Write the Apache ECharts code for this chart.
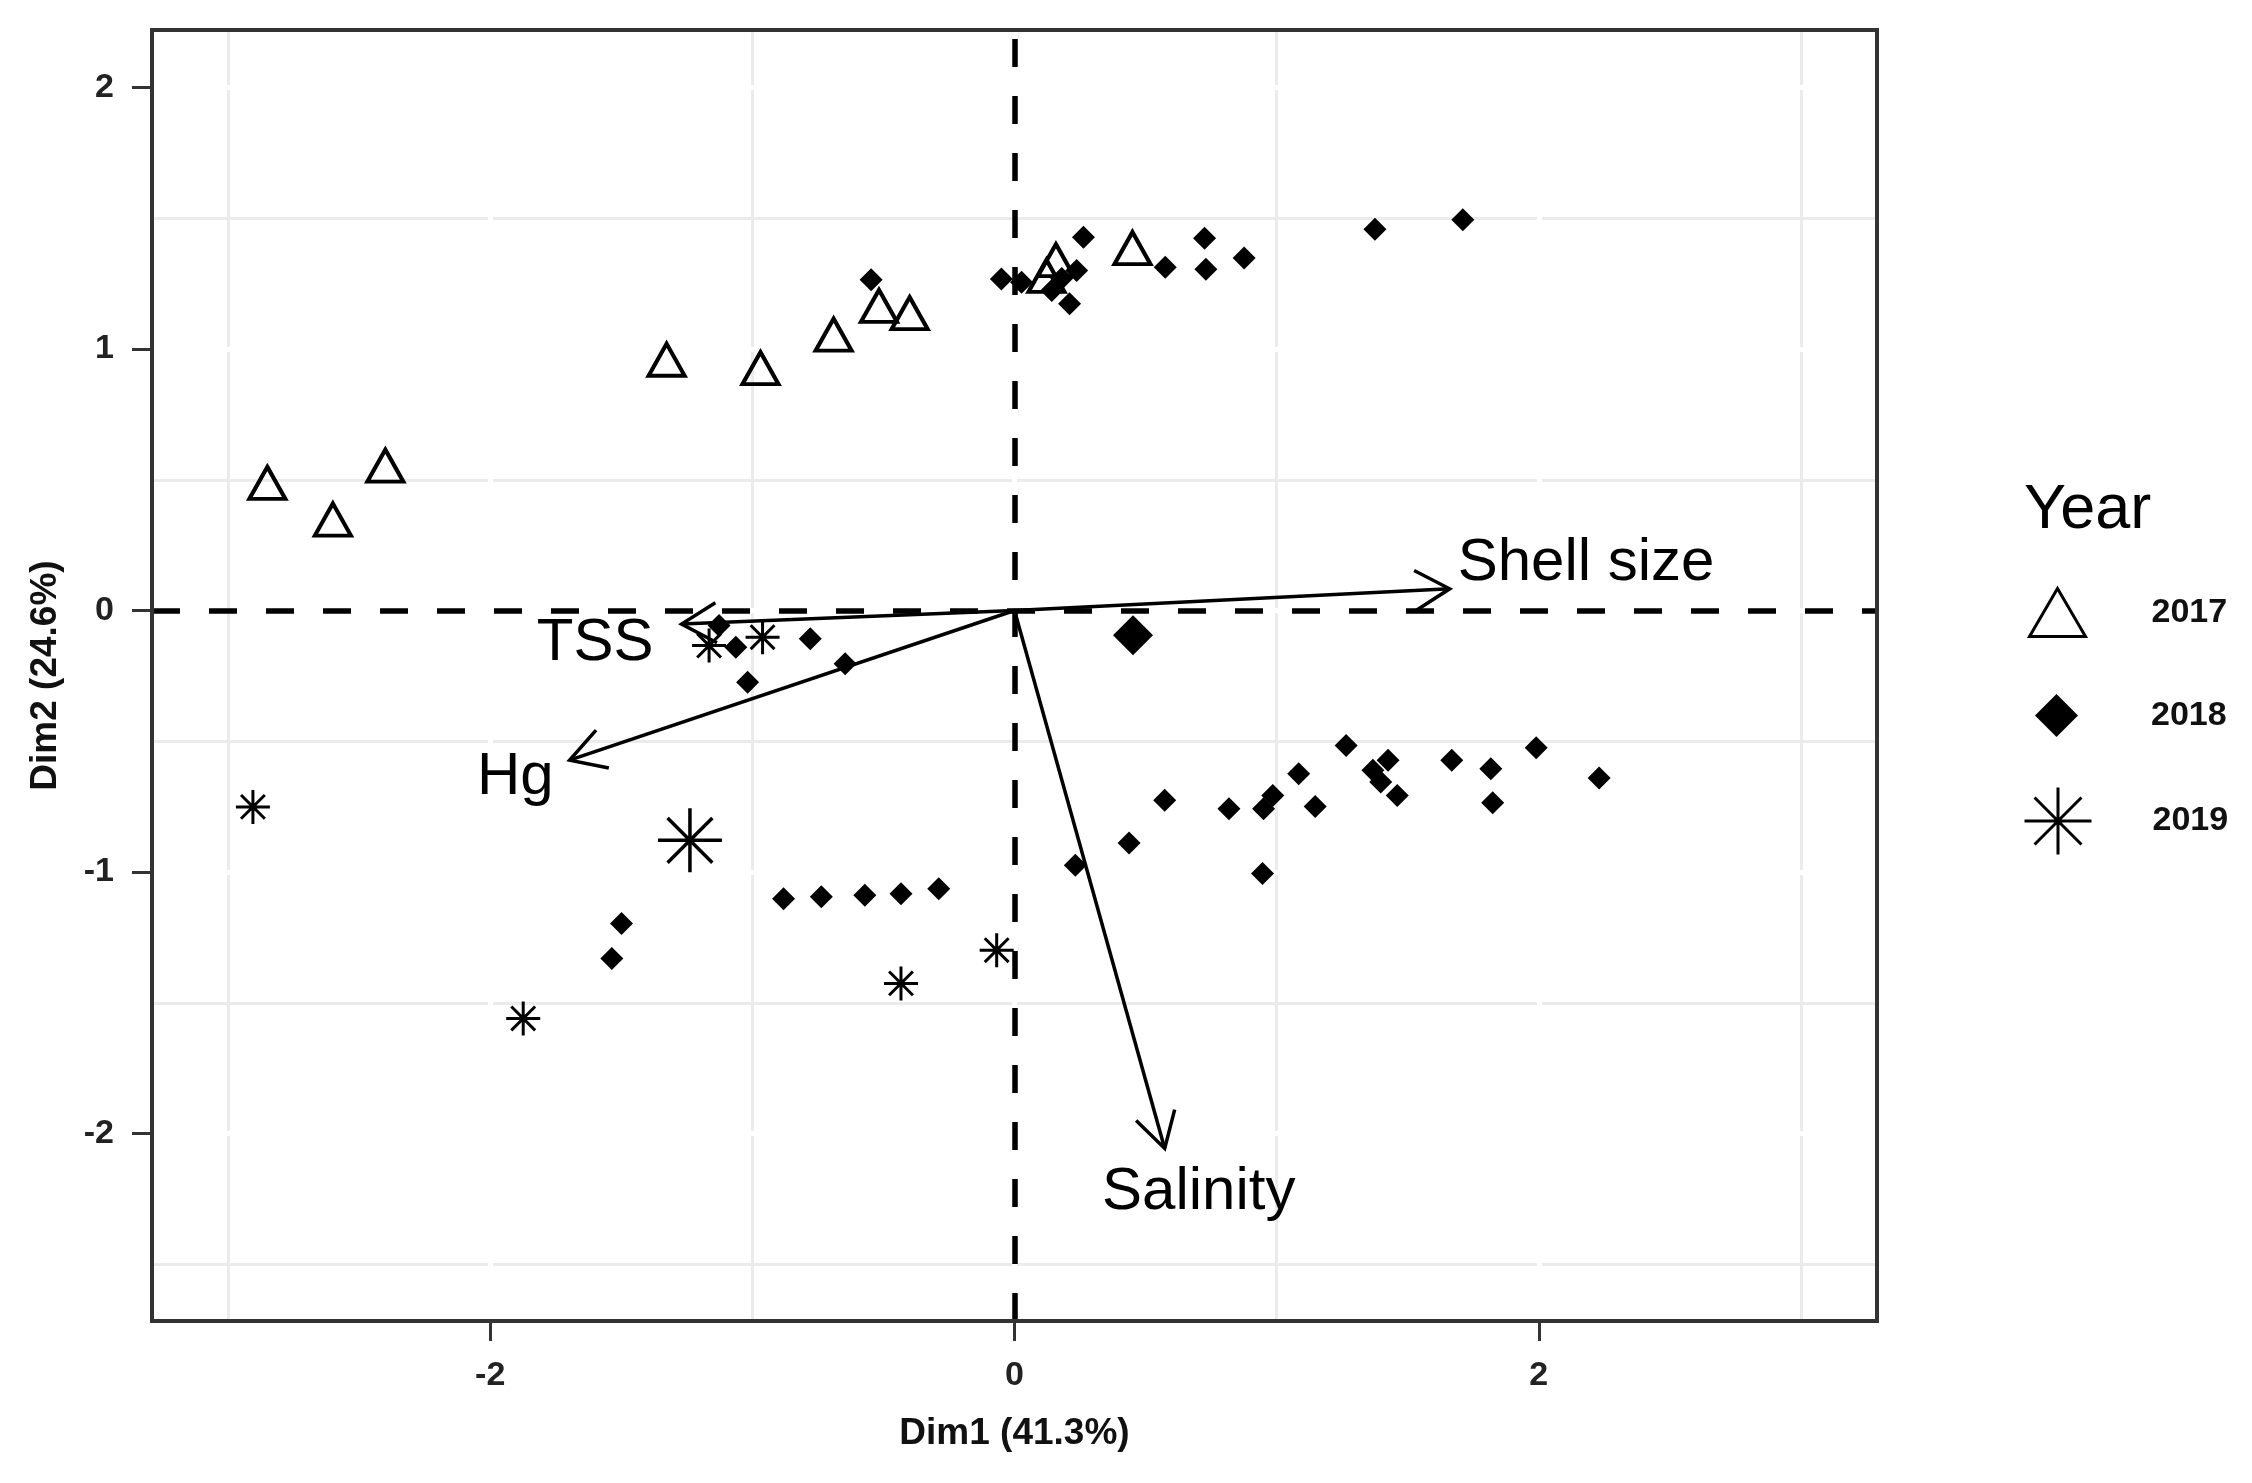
<!DOCTYPE html>
<html>
<head>
<meta charset="utf-8">
<style>
html, body { margin: 0; padding: 0; background: #fff; }
#chart { width: 2252px; height: 1483px; }
</style>
<script src="https://cdn.jsdelivr.net/npm/echarts@6/dist/echarts.min.js"></script>
</head>
<body>
<div id="chart"></div>
<script>
// axis ticks and grid positions
const xTicks = [-2, 0, 2]
const yTicks = [-2, -1, 0, 1, 2]
const xMinor = [-3, -1, 1, 3]
const yMinor = [-2.5, -1.5, -0.5, 0.5, 1.5]

// individuals, by year (Dim1, Dim2)
const pts2017 = [
  [-2.85, 0.488], [-2.60, 0.348], [-2.40, 0.554], [-1.327, 0.959], [-0.969, 0.927],
  [-0.69, 1.055], [-0.517, 1.165], [-0.40, 1.137], [0.158, 1.34], [0.122, 1.28], [0.45, 1.386]
]
const pts2018 = [
  [-0.547, 1.265], [-0.05, 1.268], [0.027, 1.255], [0.237, 1.30], [0.18, 1.27], [0.142, 1.224],
  [0.21, 1.173], [0.263, 1.427], [0.575, 1.313], [0.725, 1.424], [0.73, 1.305], [0.876, 1.348],
  [1.375, 1.458], [1.71, 1.494],
  [-1.127, -0.057], [-1.063, -0.14], [-0.779, -0.108], [-1.018, -0.274], [-0.646, -0.204],
  [-0.881, -1.102], [-0.737, -1.095], [-0.571, -1.089], [-0.433, -1.083], [-0.289, -1.064],
  [-1.499, -1.197], [-1.536, -1.331],
  [0.232, -0.974], [0.437, -0.889], [0.573, -0.726], [0.818, -0.758], [0.95, -0.758],
  [0.985, -0.707], [0.946, -1.006], [1.084, -0.624], [1.147, -0.749], [1.265, -0.516],
  [1.367, -0.611], [1.425, -0.573], [1.397, -0.656], [1.46, -0.707], [1.668, -0.573],
  [1.817, -0.605], [1.824, -0.735], [1.99, -0.525], [2.23, -0.64]
]
const pts2019 = [
  [-2.905, -0.751], [-1.874, -1.56], [-0.433, -1.426], [-0.068, -1.299], [-1.165, -0.134], [-0.961, -0.102]
]
// group means
const mean2018 = [[0.452, -0.095]]
const mean2019 = [[-1.238, -0.879]]

// variable arrows
const varNames = ['Shell size', 'TSS', 'Hg', 'Salinity']
const varX = [1.66, -1.27, -1.697, 0.573]
const varY = [0.083, -0.052, -0.572, -2.057]

const FONT = '"Liberation Sans", Arial, sans-serif'
const STAR = 'path://M10,0L10,20M0,10L20,10M3,3L17,17M3,17L17,3'

const labelPlace = {
  'Shell size': { dx: 8, dy: -25, align: 'left' },
  'TSS': { dx: -28, dy: 19, align: 'right' },
  'Hg': { dx: -16, dy: 17, align: 'right' },
  'Salinity': { dx: 34, dy: 44, align: 'center' }
}

function lineSeries(name, xs, ys, color, width, z, type) {
  return {
    type: 'scatter', name, data: [], silent: true, z,
    markLine: {
      silent: true, symbol: 'none', z, animation: false,
      label: { show: false },
      emphasis: { disabled: true },
      lineStyle: { color, width, type: type || 'solid', opacity: 1 },
      data: xs.map(v => ({ xAxis: v })).concat(ys.map(v => ({ yAxis: v })))
    }
  }
}

function arrowItem(params, api) {
  const o = api.coord([0, 0])
  const t = api.coord([api.value(0), api.value(1)])
  const dx = o[0] - t[0], dy = o[1] - t[1]
  const len = Math.hypot(dx, dy)
  const ux = dx / len, uy = dy / len
  const head = 40, ang = Math.PI / 6
  const rot = a => [ux * Math.cos(a) - uy * Math.sin(a), ux * Math.sin(a) + uy * Math.cos(a)]
  const a1 = rot(ang), a2 = rot(-ang)
  const name = varNames[params.dataIndex]
  const lp = labelPlace[name]
  return {
    type: 'group',
    children: [
      { type: 'line', shape: { x1: o[0], y1: o[1], x2: t[0], y2: t[1] }, style: { stroke: '#000', lineWidth: 3.5 } },
      { type: 'polyline', shape: { points: [[t[0] + a1[0] * head, t[1] + a1[1] * head], t, [t[0] + a2[0] * head, t[1] + a2[1] * head]] },
        style: { stroke: '#000', lineWidth: 3.5, fill: 'none' } },
      { type: 'text', x: t[0] + lp.dx, y: t[1] + lp.dy,
        style: { text: name, fontSize: 60, fontFamily: FONT, fill: '#000', align: lp.align, verticalAlign: 'middle' } }
    ]
  }
}

const chart = echarts.init(document.getElementById('chart'))
chart.setOption({
  animation: false,
  backgroundColor: '#fff',
  textStyle: { fontFamily: FONT },
  grid: { left: 152, top: 30, width: 1725, height: 1291, show: true, backgroundColor: 'transparent',
    borderColor: '#333', borderWidth: 4, z: 10 },
  title: { text: 'Year', left: 2019, top: 474, textStyle: { fontSize: 63, fontWeight: 'normal', color: '#000', fontFamily: FONT } },
  legend: [
    { data: ['2017'], left: 2023, top: 582, itemWidth: 56, itemHeight: 48, selectedMode: false,
      itemStyle: { color: 'transparent', borderColor: '#000', borderWidth: 3, opacity: 1 },
      textStyle: { fontSize: 34, fontWeight: 'bold', color: '#111', padding: [0, 0, 0, 61] } },
    { data: ['2018'], left: 2030, top: 689, itemWidth: 43, itemHeight: 43, selectedMode: false,
      itemStyle: { color: '#000', borderWidth: 0, opacity: 1 },
      textStyle: { fontSize: 34, fontWeight: 'bold', color: '#111', padding: [0, 0, 0, 68] } },
    { data: ['2019'], left: 2018, top: 781, itemWidth: 67, itemHeight: 67, selectedMode: false,
      itemStyle: { color: '#000', borderColor: '#000', borderWidth: 3, opacity: 1 },
      textStyle: { fontSize: 34, fontWeight: 'bold', color: '#111', padding: [0, 0, 0, 56] } }
  ],
  xAxis: {
    type: 'value', min: -3.29, max: 3.29,
    axisLine: { show: false, onZero: false },
    axisTick: { show: true, customValues: xTicks, length: 20, lineStyle: { color: '#333', width: 3 } },
    axisLabel: { customValues: xTicks, fontSize: 34, fontWeight: 'bold', color: '#222', margin: 38, fontFamily: FONT },
    splitLine: { show: false },
    name: 'Dim1 (41.3%)', nameLocation: 'middle', nameGap: 94,
    nameTextStyle: { fontSize: 37, fontWeight: 'bold', color: '#111', fontFamily: FONT }
  },
  yAxis: {
    type: 'value', min: -2.717, max: 2.22,
    axisLine: { show: false, onZero: false },
    axisTick: { show: true, customValues: yTicks, length: 20, lineStyle: { color: '#333', width: 3 } },
    axisLabel: { customValues: yTicks, fontSize: 34, fontWeight: 'bold', color: '#222', margin: 38, fontFamily: FONT },
    splitLine: { show: false },
    name: 'Dim2 (24.6%)', nameLocation: 'middle', nameGap: 88,
    nameTextStyle: { fontSize: 37, fontWeight: 'bold', color: '#111', fontFamily: FONT }
  },
  series: [
    lineSeries('minorGrid', xMinor, yMinor, '#ebebeb', 3, 1),
    lineSeries('majorGrid', xTicks, yTicks, '#ffffff', 5, 1.5),
    lineSeries('zero', [0], [0], '#000', 5.5, 2, [28, 29]),
    { type: 'scatter', name: '2017', data: pts2017, symbol: 'triangle', symbolSize: [36, 32], z: 3,
      itemStyle: { color: 'transparent', borderColor: '#000', borderWidth: 4, opacity: 1 } },
    { type: 'scatter', name: '2018', data: pts2018, symbol: 'diamond', symbolSize: 23, z: 3,
      itemStyle: { color: '#000', opacity: 1 } },
    { type: 'scatter', name: '2019', data: pts2019, symbol: STAR, symbolSize: 34, z: 3,
      itemStyle: { color: '#000', borderColor: '#000', borderWidth: 3, opacity: 1 } },
    { type: 'scatter', name: 'mean2018', data: mean2018, symbol: 'diamond', symbolSize: 40, z: 3,
      itemStyle: { color: '#000', opacity: 1 } },
    { type: 'scatter', name: 'mean2019', data: mean2019, symbol: STAR, symbolSize: 64, z: 3,
      itemStyle: { color: '#000', borderColor: '#000', borderWidth: 3.5, opacity: 1 } },
    { type: 'custom', name: 'vars', z: 4, silent: true,
      data: varNames.map((n, i) => [varX[i], varY[i]]),
      encode: { x: 0, y: 1 },
      renderItem: arrowItem, clip: false }
  ]
})
</script>
</body>
</html>
